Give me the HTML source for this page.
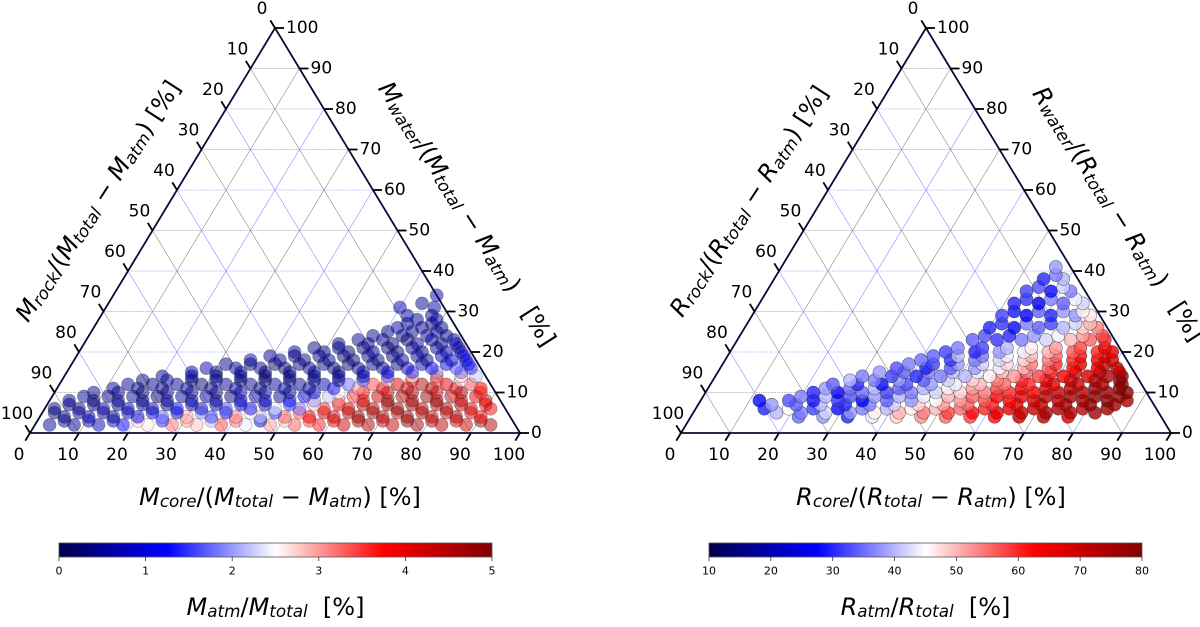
<!DOCTYPE html>
<html><head><meta charset="utf-8"><style>
html,body{margin:0;padding:0;background:#fff;}
svg{display:block;font-family:"DejaVu Sans","Liberation Sans",sans-serif;}
</style></head><body>
<svg id="fig" width="1200" height="627" viewBox="0 0 1200 627" xmlns="http://www.w3.org/2000/svg">
<defs>
<linearGradient id="seis" x1="0" x2="1" y1="0" y2="0">
<stop offset="0" stop-color="#00004d"/><stop offset="0.25" stop-color="#0000ff"/><stop offset="0.5" stop-color="#ffffff"/><stop offset="0.75" stop-color="#ff0000"/><stop offset="1" stop-color="#800000"/>
</linearGradient>
</defs>
<g id="left-plot"></g>
<g id="right-plot"></g>
</svg>
<script>
// ----- Left (mass) data, grouped in rows of equal water %: core % list and atmosphere mass fraction % list
const waterRowsL = [2,3,4,5,6,7,8,9,10,11,12,13,14,15,16,17,18,19,20,21,22,23,24,25,26,27,28,29,31,32,34];
const coreRowsL = [
[3,8,13,18,23,28,33,38,43,48,53,58,63,68,73,78,83,88,93],
[5.5,10.5,15.5,20.5,25.5,30.5,35.5,40.5,45.5,50.5,55.5,60.5,65.5,70.5,75.5,80.5,85.5,90.5],
[5,10,15,20,25,30,35,40,45,50,55,60,65,70,75,80,85,90],
[2.5,7.5,12.5,17.5,22.5,27.5,32.5,37.5,42.5,47.5,52.5,57.5,62.5,67.5,72.5,77.5,82.5,87.5],
[2,7,12,17,22,27,32,37,42,47,52,57,62,67,72,77,82,87,91],
[4.5,9.5,14.5,19.5,24.5,29.5,34.5,39.5,44.5,49.5,54.5,59.5,64.5,69.5,74.5,79.5,84.5,89.5],
[4,9,14,19,24,29,34,39,44,49,54,59,64,69,74,79,84,89],
[6.5,11.5,16.5,21.5,26.5,31.5,36.5,41.5,46.5,51.5,56.5,61.5,66.5,71.5,76.5,81.5,86.5],
[8,13,18,23,28,33,38,43,48,53,58,63,68,73,78,83,87],
[11.5,16.5,21.5,26.5,31.5,36.5,41.5,46.5,51.5,56.5,61.5,66.5,71.5,76.5,81.5,86.5],
[14,19,24,29,34,39,44,49,54,59,64,69,74,79,84],
[16.5,21.5,26.5,31.5,36.5,41.5,46.5,51.5,56.5,61.5,66.5,71.5,76.5,81.5],
[20,26,31,36,41,46,51,56,61,66,71,76,81,84],
[25.5,30.5,35.5,40.5,45.5,50.5,55.5,60.5,65.5,70.5,75.5,80.5],
[28,34,39,44,49,54,59,64,69,74,79,82],
[31.5,36.5,41.5,46.5,51.5,56.5,61.5,66.5,71.5,76.5,81],
[36,42,47,52,57,62,67,72,77,80],
[39.5,44.5,49.5,54.5,59.5,64.5,69.5,74.5,79],
[44,50,55,60,65,70,75,78],
[47.5,52.5,57.5,62.5,67.5,72.5,77],
[52,58,63,68,73,76],
[55.5,60.5,65.5,70.5,75],
[58,64,69,73],
[60.5,65.5,70.5],
[62,67,71],
[63.5,68.5],
[65,69],
[62.5,67.5],
[60,67],
[64],
[66]];
const atmRowsL = [
[0.6,0.5,0.8,1.2,2.6,3.2,2.8,3.4,2.4,3.0,3.3,3.6,4.2,4.5,4.3,4.6,4.4,4.2,4.5],
[0.4,0.6,0.9,2.7,1.4,3.0,2.2,3.2,0.9,2.8,3.5,4.0,4.6,4.3,4.8,4.5,4.2,4.6],
[0.5,0.7,0.4,1.0,1.8,2.9,1.5,3.1,2.2,3.3,3.8,4.1,4.6,4.4,4.7,4.3,4.5,3.9],
[0.3,0.5,0.6,0.7,1.1,0.8,1.9,1.0,2.6,1.4,3.4,4.3,4.5,4.7,4.4,4.6,4.3,4.0],
[0.4,0.5,0.6,0.8,0.7,1.2,0.9,1.6,1.1,2.4,1.8,3.6,4.2,4.5,4.8,4.4,4.6,4.2,3.8],
[0.4,0.5,0.3,0.6,0.5,0.8,0.6,1.0,0.7,1.5,2.8,3.9,4.4,4.6,4.8,4.5,4.3,3.9],
[0.5,0.3,0.6,0.4,0.5,0.7,0.6,0.9,0.8,1.3,2.0,3.1,4.0,4.7,4.5,4.8,4.3,4.1],
[0.5,0.4,0.6,0.3,0.5,0.6,0.4,0.7,0.6,1.0,2.2,3.5,4.3,4.5,4.7,4.2,4.0],
[0.4,0.5,0.3,0.6,0.5,0.4,0.7,0.6,0.5,0.9,2.5,3.8,4.4,4.6,4.2,4.5,3.6],
[0.5,0.3,0.4,0.6,0.4,0.5,0.3,0.6,0.5,1.2,3.0,4.0,4.4,4.6,4.1,3.8],
[0.6,0.4,0.5,0.3,0.5,0.4,0.6,0.5,0.7,1.8,3.4,4.1,4.5,4.0,3.4],
[0.4,0.5,0.3,0.6,0.4,0.5,0.3,0.4,0.6,1.6,2.9,3.8,3.5,2.6],
[0.5,0.6,0.4,0.5,0.3,0.4,0.5,0.6,0.8,1.5,2.6,3.3,2.8,2.2],
[0.6,0.4,0.5,0.3,0.4,0.5,0.4,0.6,0.9,1.4,2.0,1.8],
[0.7,0.5,0.4,0.3,0.5,0.4,0.6,0.5,0.8,1.2,1.6,1.4],
[0.5,0.4,0.3,0.5,0.4,0.3,0.5,0.4,0.7,1.0,1.3],
[0.6,0.5,0.4,0.5,0.3,0.4,0.6,0.5,0.9,1.1],
[0.5,0.4,0.5,0.3,0.4,0.5,0.6,0.8,1.0],
[0.5,0.4,0.3,0.5,0.4,0.6,0.7,0.8],
[0.4,0.5,0.3,0.4,0.5,0.6,0.7],
[0.4,0.5,0.3,0.6,0.5,0.7],
[0.5,0.4,0.3,0.5,0.6],
[0.5,0.4,0.6,0.5],
[0.4,0.5,0.6],
[0.6,0.5,0.4],
[0.5,0.4],
[0.5,0.6],
[0.6,0.5],
[0.7,0.6],
[0.5],
[0.8]];
// ----- Right (radius) data, rows of equal water %: core % and atmosphere radius fraction %
const waterRowsR = [4,5,6,7,8,9,10,11,12,13,14,15,16,17,18,19,20,21,23,24,26,27,29,30,32,33,35,36,38,39,41];
const coreRowsR = [
[22,27,32,37,42,47,52,57,62,67,72,77],
[17,22,27,32,37,42,47,52,57,62,67,72,77,82],
[14,19,24,29,34,39,44,49,54,59,64,69,74,79,84],
[15,20,25,30,35,40,45,50,55,60,65,70,75,80,85],
[12,18,23,28,33,38,43,48,53,58,63,68,73,78,83,87],
[20,25,30,35,40,45,50,55,60,65,70,75,80,85],
[22,27,32,37,42,47,52,57,62,67,72,77,82,86],
[24,29,34,39,44,49,54,59,64,69,74,79,84],
[25,30,35,40,45,50,55,60,65,70,75,80,84],
[28,33,38,43,48,53,58,63,68,73,78,83],
[30,36,41,46,51,56,61,66,71,76,80,83],
[33,38,43,48,53,58,63,68,73,78,82],
[36,42,47,52,57,62,67,72,77,81],
[38,43,48,53,58,63,68,73,78],
[40,46,51,56,61,66,71,76,79],
[42,47,52,57,62,67,72,77],
[44,50,55,60,65,70,75,78],
[46,51,56,61,66,71,76],
[48,53,58,63,68,72,75],
[50,55,60,65,70,74],
[50,55,60,65,69,72],
[52,57,62,67,70],
[51,56,61,66,69],
[53,58,63,67],
[52,57,62,66],
[54,59,64],
[53,58,62],
[55,60],
[55,59],
[57],
[56]];
const atmRowsR = [
[35,38,30,44,48,52,55,58,62,70,72,68],
[40,36,42,38,46,50,54,58,62,66,70,74,72,76],
[30,45,32,28,36,40,46,50,55,60,65,70,74,72,76],
[38,34,40,30,36,42,48,52,56,60,66,70,74,78,76],
[28,33,29,31,26,34,38,45,52,57,62,68,72,75,78,74],
[36,40,33,38,40,44,50,56,62,66,72,75,78,76],
[30,27,35,32,36,42,48,54,60,64,70,73,76,78],
[38,35,40,34,40,46,52,58,64,68,72,76,78],
[34,30,28,33,38,44,50,55,60,66,70,74,77],
[40,36,38,34,42,48,54,60,66,70,74,77],
[36,32,30,36,40,46,52,58,64,68,72,75],
[38,34,36,40,44,50,56,62,68,72,74],
[33,29,34,38,44,50,56,62,66,70],
[36,32,38,42,48,54,60,66,70],
[35,31,36,42,48,54,60,64,68],
[34,40,36,44,50,56,62,68],
[32,30,38,44,50,56,60,66],
[36,32,40,46,52,58,64],
[34,31,36,42,50,56,60],
[33,30,38,44,52,58],
[30,28,34,40,48,54],
[31,36,32,42,50],
[32,27,30,38,46],
[29,34,38,46],
[30,26,34,42],
[31,36,44],
[32,28,36],
[33,42],
[30,40],
[36],
[38]];
const ticks = [0,10,20,30,40,50,60,70,80,90,100];
const cbTicksL = [0,1,2,3,4,5];
const cbTicksR = [10,20,30,40,50,60,70,80];

const NS = "http://www.w3.org/2000/svg";
function mk(parent, tag, attrs){const e=document.createElementNS(NS,tag);for(const k in attrs)e.setAttribute(k,attrs[k]);parent.appendChild(e);return e;}
function seismic(t){
  t=Math.max(0,Math.min(1,t));
  const st=[[0,0,0,77],[0.25,0,0,255],[0.5,255,255,255],[0.75,255,0,0],[1,128,0,0]];
  for(let i=0;i<4;i++){if(t<=st[i+1][0]){const a=st[i],b=st[i+1],f=(t-a[0])/(b[0]-a[0]);
    return `rgb(${Math.round(a[1]+f*(b[1]-a[1]))},${Math.round(a[2]+f*(b[2]-a[2]))},${Math.round(a[3]+f*(b[3]-a[3]))})`;}}
  return "rgb(128,0,0)";
}
function addText(g,x,y,str,size,anchor){
  const t=mk(g,"text",{x:x,y:y,"font-size":size,"text-anchor":anchor||"middle","dominant-baseline":"central",fill:"#000"});
  t.textContent=str;return t;
}
function richLabel(g,x,y,rot,parts,size,name){
  const t=mk(g,"text",{x:0,y:0,"font-size":size,"text-anchor":"middle","dominant-baseline":"central",transform:`translate(${x},${y}) rotate(${rot})`,fill:"#000"});
  
  
  parts.forEach(p=>{
    const s=mk(t,"tspan",{});
    if(p[1]==="sub"){s.setAttribute("font-size",size*0.7);s.setAttribute("baseline-shift","-25%");s.setAttribute("font-style","italic");}
    else if(p[1]==="it"){s.setAttribute("font-style","italic");}
    s.textContent=p[0];
  });
  return t;
}

function drawPlot(g, ox, waterRows, coreRows, valRows, vmin, vmax, opts){
  const BLx=ox, BLy=433, W=490, H=405;
  const X=(c,w)=>BLx+(c+w/2)/100*W;
  const Y=(c,w)=>BLy-w/100*H;
  const grid=mk(g,"g",{});
  
  
  for(let i=1;i<10;i++){
    const v=i*10, col=(i%2===0)?"#8c8cff":"#888";
    mk(grid,"line",{x1:X(0,v),y1:Y(0,v),x2:X(100-v,v),y2:Y(100-v,v),stroke:col,"stroke-width":0.6,"stroke-dasharray":"1.5,0.8"});
    mk(grid,"line",{x1:X(v,0),y1:Y(v,0),x2:X(v,100-v),y2:Y(v,100-v),stroke:col,"stroke-width":0.6});
    mk(grid,"line",{x1:X(100-v,0),y1:Y(100-v,0),x2:X(0,100-v),y2:Y(0,100-v),stroke:col,"stroke-width":0.6});
  }
  const pts=mk(g,"g",{});
  
  
  for(let r=0;r<waterRows.length;r++){
    const w=waterRows[r];
    for(let i=0;i<coreRows[r].length;i++){
      const c=coreRows[r][i], v=valRows[r][i];
      const el=mk(pts,"circle",{cx:X(c,w),cy:Y(c,w),r:opts.r,fill:seismic((v-vmin)/(vmax-vmin)),"fill-opacity":opts.fa,stroke:"#222","stroke-opacity":opts.sa,"stroke-width":0.6});
      
      
    }
  }
  const fr=mk(g,"polygon",{points:`${X(0,0)},${Y(0,0)} ${X(100,0)},${Y(100,0)} ${X(0,100)},${Y(0,100)}`,fill:"none",stroke:"#0a0a3a","stroke-width":1.8});
  
  
  const tg=mk(g,"g",{});
  
  
  ticks.forEach(v=>{
    let x=X(v,0),y=Y(v,0);
    mk(tg,"line",{x1:x,y1:y,x2:x-4.7,y2:y+7.7,stroke:"#000","stroke-width":1.8});
    addText(tg,x-11,y+22,String(v),17);
    x=X(0,100-v);y=Y(0,100-v);
    mk(tg,"line",{x1:x,y1:y,x2:x-4.7,y2:y-7.7,stroke:"#000","stroke-width":1.8});
    addText(tg,x-13,y-19,String(v),17);
    x=X(100-v,v);y=Y(100-v,v);
    mk(tg,"line",{x1:x,y1:y,x2:x+9,y2:y,stroke:"#000","stroke-width":1.8});
    addText(tg,x+11,y,String(v),17,"start");
  });
}

const L=document.getElementById("left-plot"), R=document.getElementById("right-plot");
drawPlot(L,30,waterRowsL,coreRowsL,atmRowsL,0,5,{r:6.5,fa:0.5,sa:0.4});
drawPlot(R,681,waterRowsR,coreRowsR,atmRowsR,10,80,{r:6.5,fa:0.8,sa:0.6});

function labels(g,ox,S){
  richLabel(g,ox+250,497,0,[[S,"it"],["core","sub"],["/(","n"],[S,"it"],["total","sub"],[" − ","n"],[S,"it"],["atm","sub"],[") [%]","n"]],24,"x-axis-title");
  richLabel(g,ox+68,201,-57,[[S,"it"],["rock","sub"],["/(","n"],[S,"it"],["total","sub"],[" − ","n"],[S,"it"],["atm","sub"],[") [%]","n"]],24,"left-axis-title");
  richLabel(g,ox+437,214,57.5,[[S,"it"],["water","sub"],["/(","n"],[S,"it"],["total","sub"],[" − ","n"],[S,"it"],["atm","sub"],[")\u00a0\u00a0\u00a0[%]","n"]],24,"right-axis-title");
}
labels(L,30,"M");labels(R,681,"R");

function colorbar(g,x0,x1,tk,vmin,vmax,S){
  const cb=mk(g,"g",{});
  
  
  mk(cb,"rect",{x:x0,y:543,width:x1-x0,height:14,fill:"url(#seis)",stroke:"#555","stroke-width":0.8});
  tk.forEach(v=>{
    const x=x0+(v-vmin)/(vmax-vmin)*(x1-x0);
    mk(cb,"line",{x1:x,y1:557,x2:x,y2:561,stroke:"#333","stroke-width":0.8});
    addText(cb,x,571,String(v),11);
  });
  richLabel(cb,(x0+x1)/2,607,0,[[S,"it"],["atm","sub"],["/","n"],[S,"it"],["total","sub"],["\u00a0\u00a0[%]","n"]],24,"colorbar-title");
}
colorbar(L,59,492,cbTicksL,0,5,"M");
colorbar(R,709,1142,cbTicksR,10,80,"R");
</script>
</body></html>
